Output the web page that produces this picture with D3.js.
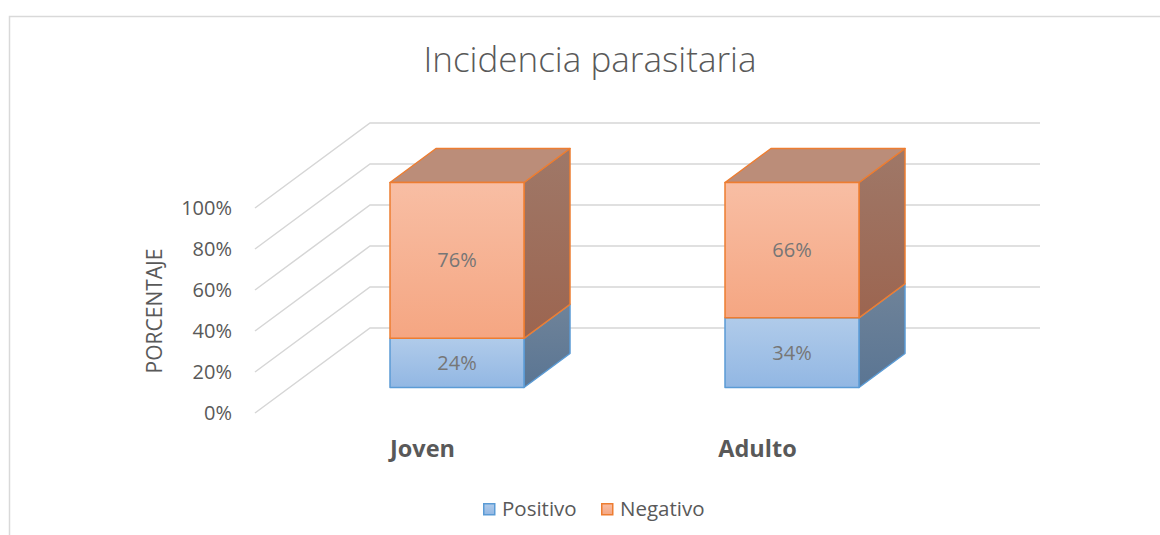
<!DOCTYPE html>
<html>
<head>
<meta charset="utf-8">
<script src="https://cdn.jsdelivr.net/npm/d3@7"></script>
<style>
    body { margin: 0; background: #fff; }
    svg { display: block; font-family: "Open Sans", sans-serif; }
</style>
</head>
<body>
<div id="chart"></div>
<script>
const categories = ['Joven', 'Adulto'];
const seriesNames = ['Positivo', 'Negativo'];
const positivo = [0.24, 0.34];
const negativo = [0.76, 0.66];
const yTicks = [0, 0.2, 0.4, 0.6, 0.8, 1];
const title = 'Incidencia parasitaria';
const yTitle = 'PORCENTAJE';

{
    const width = 1160, height = 535;

    const svg = d3.select('#chart')
        .append('svg')
        .attr('width', width)
        .attr('height', height);

    // chart border (runs off the right/bottom of the picture)
    svg.append('rect')
        .attr('x', 9.5).attr('y', 16.5)
        .attr('width', 1200).attr('height', 600)
        .attr('fill', 'none')
        .attr('stroke', '#d9d9d9')
        .attr('stroke-width', 1.5);

    const x = d3.scaleBand().domain(categories).range([255, 925]);
    const y = d3.scaleLinear().domain([0, 1]).range([413, 208]);

    // oblique depth: z in [0,1] shifts right and up
    const depthX = 115, depthY = 85;
    const px = (sx, z) => sx + z * depthX;
    const py = (sy, z) => sy - z * depthY;
    const barW = 134, z0 = 0.3, z1 = 0.7;

    const table = categories.map((c, i) => ({ cat: c, Positivo: positivo[i], Negativo: negativo[i] }));
    const stacked = d3.stack().keys(seriesNames)(table);

    const color = {
        Positivo: { top: '#b0cbea', bottom: '#92b7e3', sideTop: '#6f8399', sideBottom: '#5a7593', lid: '#8aa3bf', stroke: '#5b9bd5' },
        Negativo: { top: '#f8bea4', bottom: '#f5a682', sideTop: '#9f7868', sideBottom: '#9c6550', lid: '#bb8d79', stroke: '#ed7d31' }
    };

    const defs = svg.append('defs');
    seriesNames.forEach(s => {
        const g1 = defs.append('linearGradient').attr('id', `front-${s}`)
            .attr('x1', 0).attr('y1', 0).attr('x2', 0).attr('y2', 1);
        g1.append('stop').attr('offset', '0%').attr('stop-color', color[s].top);
        g1.append('stop').attr('offset', '100%').attr('stop-color', color[s].bottom);
        const g2 = defs.append('linearGradient').attr('id', `side-${s}`)
            .attr('x1', 0).attr('y1', 0).attr('x2', 0).attr('y2', 1);
        g2.append('stop').attr('offset', '0%').attr('stop-color', color[s].sideTop);
        g2.append('stop').attr('offset', '100%').attr('stop-color', color[s].sideBottom);
    });

    // back wall + side wall gridlines
    const grid = svg.append('g')
        .attr('stroke', '#d6d6d6')
        .attr('stroke-width', 1.5)
        .attr('fill', 'none');
    grid.selectAll('path')
        .data(yTicks)
        .enter()
        .append('path')
        .attr('d', d => {
            const [r0, r1] = x.range();
            return `M${px(r0, 0)},${py(y(d), 0)}L${px(r0, 1)},${py(y(d), 1)}L${px(r1, 1)},${py(y(d), 1)}`;
        });

    // tick labels
    svg.append('g')
        .selectAll('text')
        .data(yTicks)
        .enter()
        .append('text')
        .attr('x', 232)
        .attr('y', d => y(d))
        .attr('dy', '0.35em')
        .attr('text-anchor', 'end')
        .attr('fill', '#595959')
        .style('font-size', '20px')
        .text(d => d3.format('.0%')(d));

    svg.append('text')
        .attr('transform', 'translate(162,311) rotate(-90)')
        .attr('text-anchor', 'middle')
        .attr('fill', '#595959')
        .style('font-size', '21px')
        .text(yTitle);

    // bars
    const bars = svg.append('g');
    stacked.forEach((layer, li) => {
        const s = layer.key;
        const isTop = li === stacked.length - 1;
        layer.forEach(seg => {
            const cx = x(seg.data.cat) + x.bandwidth() / 2;
            const xl = px(cx - barW / 2, z0), xr = px(cx + barW / 2, z0);
            const yb = py(y(seg[0]), z0), yt = py(y(seg[1]), z0);
            const ddx = (z1 - z0) * depthX, ddy = (z1 - z0) * depthY;
            const g = bars.append('g')
                .attr('stroke', color[s].stroke)
                .attr('stroke-width', 1.5)
                .attr('stroke-linejoin', 'round');

            g.append('path')
                .attr('fill', `url(#side-${s})`)
                .attr('d', `M${xr},${yb}L${xr + ddx},${yb - ddy}L${xr + ddx},${yt - ddy}L${xr},${yt}Z`);
            if (isTop) {
                g.append('path')
                    .attr('fill', color[s].lid)
                    .attr('d', `M${xl},${yt}L${xl + ddx},${yt - ddy}L${xr + ddx},${yt - ddy}L${xr},${yt}Z`);
            }
            g.append('rect')
                .attr('x', xl).attr('y', yt)
                .attr('width', xr - xl).attr('height', yb - yt)
                .attr('fill', `url(#front-${s})`);

            bars.append('text')
                .attr('x', (xl + xr) / 2)
                .attr('y', (yb + yt) / 2)
                .attr('dy', '0.35em')
                .attr('text-anchor', 'middle')
                .attr('fill', '#767676')
                .style('font-size', '20px')
                .text(d3.format('.0%')(seg[1] - seg[0]));
        });
    });

    // category labels
    svg.append('g')
        .selectAll('text')
        .data(categories)
        .enter()
        .append('text')
        .attr('x', d => x(d) + x.bandwidth() / 2)
        .attr('y', 449)
        .attr('dy', '0.35em')
        .attr('text-anchor', 'middle')
        .attr('fill', '#595959')
        .style('font-size', '23.5px')
        .style('font-weight', 'bold')
        .text(d => d);

    svg.append('text')
        .attr('x', 590)
        .attr('y', 60)
        .attr('dy', '0.35em')
        .attr('text-anchor', 'middle')
        .attr('fill', '#595959')
        .style('font-size', '35px')
        .style('font-weight', 300)
        .text(title);

    // legend
    const legendX = [483, 601];
    const legend = svg.append('g')
        .selectAll('g')
        .data(seriesNames)
        .enter()
        .append('g')
        .attr('transform', (d, i) => `translate(${legendX[i]},509)`);
    legend.append('rect')
        .attr('x', 0.75).attr('y', -5.25)
        .attr('width', 11).attr('height', 11)
        .attr('fill', d => `url(#front-${d})`)
        .attr('stroke', d => color[d].stroke)
        .attr('stroke-width', 1.5);
    legend.append('text')
        .attr('x', 19)
        .attr('dy', '0.35em')
        .attr('fill', '#595959')
        .style('font-size', '20.5px')
        .text(d => d);
}
</script>
</body>
</html>
